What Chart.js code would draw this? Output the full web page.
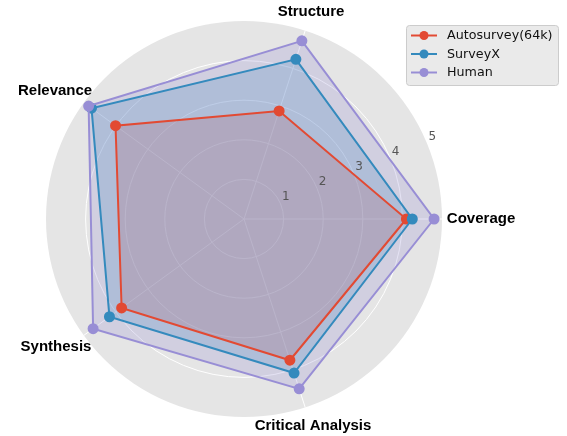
<!DOCTYPE html>
<html>
<head>
<meta charset="utf-8">
<script src="https://cdn.jsdelivr.net/npm/chart.js@4"></script>
<style>
  body { margin: 0; background: #fff; }
  #wrap { width: 567px; height: 436px; }
</style>
</head>
<body>
<div id="wrap"><canvas id="myChart"></canvas></div>
<script>
// criteria, going clockwise from the right
var criteria = ['Coverage', 'Critical Analysis', 'Synthesis', 'Relevance', 'Structure'];
var radialTicks = [1, 2, 3, 4, 5];
// scores per method
var autosurvey = [4.10, 3.75, 3.82, 4.01, 2.87];
var surveyx = [4.25, 4.09, 4.20, 4.76, 4.24];
var human = [4.80, 4.51, 4.71, 4.85, 4.73];

var red = '#E24A33', blue = '#348ABD', purple = '#988ED5';

function alpha(hex, a) {
  var n = parseInt(hex.slice(1), 16);
  return 'rgba(' + (n >> 16) + ',' + ((n >> 8) & 255) + ',' + (n & 255) + ',' + a + ')';
}

// gray disk behind the grid
var diskPlugin = {
  id: 'disk',
  beforeDraw: function (chart) {
    var s = chart.scales.r, ctx = chart.ctx;
    ctx.save();
    ctx.beginPath();
    ctx.arc(s.xCenter, s.yCenter, s.drawingArea, 0, Math.PI * 2);
    ctx.fillStyle = '#E5E5E5';
    ctx.fill();
    ctx.restore();
  }
};

// radial tick numbers along the 22.5 degree direction
var tickPlugin = {
  id: 'rticks',
  afterDatasetsDraw: function (chart) {
    var s = chart.scales.r, ctx = chart.ctx;
    var a = 22.5 * Math.PI / 180;
    ctx.save();
    ctx.font = '12px "DejaVu Sans"';
    ctx.fillStyle = '#555555';
    ctx.textAlign = 'left';
    ctx.textBaseline = 'bottom';
    radialTicks.forEach(function (v) {
      var d = s.getDistanceFromCenterForValue(v);
      ctx.fillText(String(v), s.xCenter + d * Math.cos(a) + 1.5, s.yCenter - d * Math.sin(a) - 0.5);
    });
    ctx.restore();
  }
};

// axis names outside the disk
var namePlugin = {
  id: 'names',
  afterDatasetsDraw: function (chart) {
    var s = chart.scales.r, ctx = chart.ctx;
    ctx.save();
    ctx.font = 'bold 15px "Liberation Sans", Arial, sans-serif';
    ctx.fillStyle = '#000';
    ctx.textAlign = 'center';
    ctx.textBaseline = 'middle';
    chart.data.labels.forEach(function (lab, i) {
      var p = s.getPointPosition(i, s.drawingArea + 10);
      var c = Math.cos(p.angle), sn = Math.sin(p.angle);
      var w = ctx.measureText(lab).width, h = 16;
      var x = p.x + (w / 2) * 0.85 * Math.sign(c) * Math.pow(Math.abs(c), 2);
      var y = p.y + sn * h / 2 * 1.2;
      ctx.fillText(lab, x, y);
    });
    ctx.restore();
  }
};

// matplotlib-like legend box at the top right
var legendPlugin = {
  id: 'boxlegend',
  afterDraw: function (chart) {
    var ctx = chart.ctx;
    var x0 = 406, y0 = 25, bw = 152, bh = 60;
    ctx.save();
    ctx.beginPath();
    ctx.roundRect(x0 + 0.5, y0 + 0.5, bw, bh, 3);
    ctx.fillStyle = 'rgba(229,229,229,0.8)';
    ctx.fill();
    ctx.strokeStyle = '#CCCCCC';
    ctx.lineWidth = 1;
    ctx.stroke();
    ctx.font = '12.7px "DejaVu Sans"';
    ctx.textAlign = 'left';
    ctx.textBaseline = 'middle';
    chart.data.datasets.forEach(function (ds, i) {
      var y = y0 + 10.5 + i * 18.5;
      ctx.strokeStyle = ds.borderColor;
      ctx.lineWidth = 2;
      ctx.beginPath();
      ctx.moveTo(x0 + 5, y);
      ctx.lineTo(x0 + 31, y);
      ctx.stroke();
      ctx.beginPath();
      ctx.arc(x0 + 18, y, 4.5, 0, Math.PI * 2);
      ctx.fillStyle = ds.borderColor;
      ctx.fill();
      ctx.fillStyle = '#111';
      ctx.fillText(ds.label, x0 + 41, y + 0.5);
    });
    ctx.restore();
  }
};

function series(label, data, color, order) {
  return {
    label: label,
    data: data,
    order: order,
    borderColor: color,
    backgroundColor: alpha(color, 0.25),
    pointBackgroundColor: color,
    pointBorderColor: color,
    borderWidth: 2,
    pointRadius: 4.5,
    pointHoverRadius: 4.5,
    fill: true
  };
}

var ctx = document.getElementById('myChart');
var myChart = new Chart(ctx, {
  type: 'radar',
  data: {
    labels: criteria,
    datasets: [
      series('Autosurvey(64k)', autosurvey, red, 3),
      series('SurveyX', surveyx, blue, 2),
      series('Human', human, purple, 1)
    ]
  },
  options: {
    responsive: true,
    maintainAspectRatio: false,
    animation: false,
    devicePixelRatio: 1,
    layout: { padding: { left: 46, right: 125, top: 21, bottom: 19 } },
    elements: { line: { tension: 0 } },
    scales: {
      r: {
        min: 0,
        max: 5,
        startAngle: 90,
        ticks: { display: false, stepSize: 1 },
        pointLabels: { display: false },
        grid: {
          circular: true,
          lineWidth: 1,
          color: function (c) { return c.tick && c.tick.value === 5 ? 'rgba(0,0,0,0)' : '#FFFFFF'; }
        },
        angleLines: { color: '#FFFFFF', lineWidth: 1 }
      }
    },
    plugins: {
      filler: { drawTime: 'beforeDatasetsDraw' },
      legend: { display: false },
      tooltip: { enabled: false }
    }
  },
  plugins: [diskPlugin, tickPlugin, namePlugin, legendPlugin]
});
</script>
</body>
</html>
